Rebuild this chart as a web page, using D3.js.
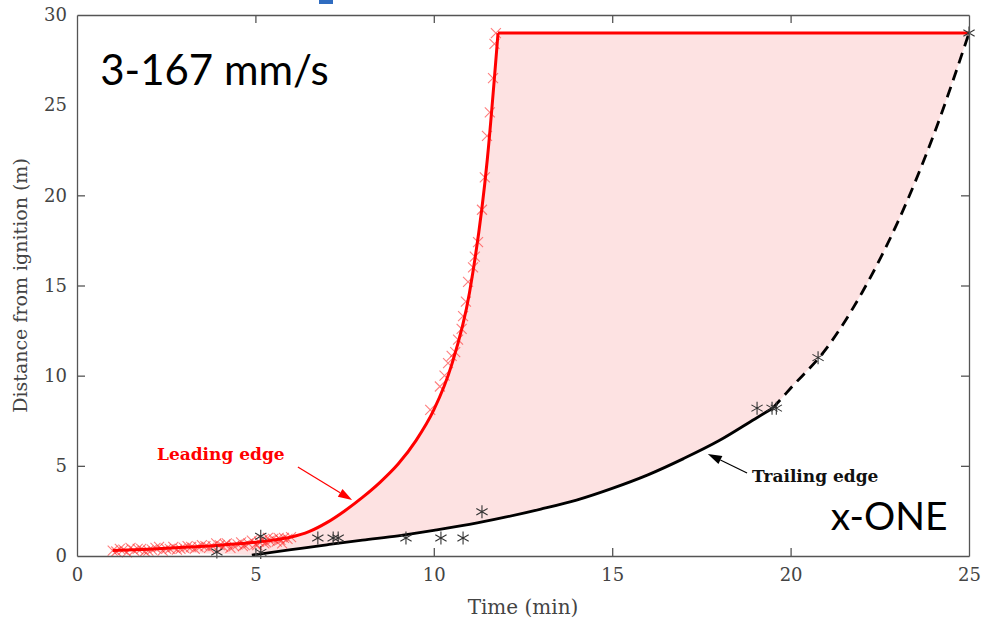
<!DOCTYPE html>
<html>
<head>
<meta charset="utf-8">
<style>
  body { margin: 0; background: #fff; }
  svg { display: block; }
  .tick text { font-family: "DejaVu Serif", serif; font-size: 18px; fill: #444; }
</style>
</head>
<body>
<svg width="984" height="629"></svg>
<script src="https://d3js.org/d3.v7.min.js"></script>
<script>

// leading edge fit (min, m)
var leadT = [1.0, 2, 3, 4, 5, 5.5, 6, 6.5, 7, 7.5, 8, 8.5, 9, 9.5, 10, 10.5, 11, 11.5, 11.8];
var leadD = [0.3, 0.38, 0.48, 0.6, 0.76, 0.88, 1.05, 1.35, 1.85, 2.5, 3.25, 4.1, 5.1, 6.4, 8.1, 10.6, 14.6, 22, 29];
var topT = [11.8, 25];
var topD = [29, 29];

// trailing edge fit, solid then extrapolated (dashed)
var trailT = [4.9, 6, 7, 8, 9, 10, 11, 12, 13, 14, 15, 16, 17, 18, 19, 19.5];
var trailD = [0.05, 0.35, 0.62, 0.88, 1.12, 1.42, 1.75, 2.15, 2.6, 3.1, 3.75, 4.5, 5.4, 6.4, 7.6, 8.2];
var extT = [19.5, 20, 21, 22, 23, 24, 25];
var extD = [8.2, 9.3, 11.5, 14.6, 18.5, 23.3, 29];

// measured leading edge points (x markers)
var leadPtT = [1.0, 1.1, 1.3, 1.4, 1.6, 1.7, 1.8, 1.9, 2.1, 2.2, 2.4, 2.5, 2.7, 2.8, 3.0, 3.1, 3.3, 3.4,
  3.5, 3.7, 3.8, 4.0, 4.1, 4.2, 4.4, 4.5, 4.6, 4.7, 4.8, 4.9, 5.0, 5.1, 5.2, 5.3, 5.4, 5.5, 5.6, 5.7,
  5.8, 5.9, 6.0, 1.5, 2.0, 2.6, 3.2, 3.9, 4.3, 5.05, 5.35, 5.75, 1.2, 2.3, 2.9, 3.6, 4.15, 4.65, 5.25, 5.65,
  9.9, 10.17, 10.3, 10.4, 10.5, 10.6, 10.68, 10.78, 10.82, 10.9, 10.96, 11.1, 11.15, 11.24, 11.35,
  11.43, 11.49, 11.57, 11.66, 11.7, 11.74];
var leadPtD = [0.3, 0.25, 0.35, 0.2, 0.3, 0.4, 0.4, 0.25, 0.35, 0.45, 0.3, 0.4, 0.5, 0.35, 0.45, 0.55, 0.4, 0.5,
  0.6, 0.45, 0.55, 0.6, 0.5, 0.7, 0.55, 0.65, 0.75, 0.6, 0.7, 0.85, 0.65, 0.8, 0.9, 0.75, 0.85, 0.95, 0.8, 0.9,
  1.0, 0.95, 1.05, 0.45, 0.3, 0.4, 0.5, 0.7, 0.45, 0.6, 1.0, 0.7, 0.4, 0.5, 0.4, 0.55, 0.65, 0.55, 0.7, 1.0,
  8.1, 9.4, 10.0, 10.7, 11.1, 11.3, 12.0, 12.6, 13.3, 14.1, 15.2, 16.0, 16.6, 17.4, 19.2,
  21.0, 23.3, 24.6, 26.5, 28.4, 29];

// measured trailing edge points (* markers)
var trailPtT = [3.92, 5.15, 5.15, 6.75, 7.18, 7.32, 9.22, 10.2, 10.82, 11.35, 19.06, 19.48, 19.6, 20.77, 25];
var trailPtD = [0.22, 1.1, 0.2, 1.0, 1.0, 1.0, 1.0, 1.0, 1.0, 2.45, 8.2, 8.2, 8.2, 11.0, 29];

var xTicks = [0, 5, 10, 15, 20, 25];
var yTicks = [0, 5, 10, 15, 20, 25, 30];

function zip(a, b){
  return a.map(function(v, i){ return [v, b[i]]; });
}

var svg = d3.select('svg');
var plotLeft = 77, plotRight = 969, plotTop = 15, plotBottom = 556;

var x = d3.scaleLinear().domain([0, 25]).range([plotLeft, plotRight]);
var y = d3.scaleLinear().domain([0, 30]).range([plotBottom, plotTop]);

// bit of the slide title peeking in
svg.append('rect').attr('x', 319).attr('y', 0).attr('width', 14).attr('height', 4).attr('fill', '#2f6cc0');

var line = d3.line()
    .x(function(d){ return x(d[0]); })
    .y(function(d){ return y(d[1]); })
    .curve(d3.curveMonotoneX);
var straight = d3.line()
    .x(function(d){ return x(d[0]); })
    .y(function(d){ return y(d[1]); });

var lead = zip(leadT, leadD);
var trail = zip(trailT, trailD);
var ext = zip(extT, extD);

// shaded band between the edges
var band = line(lead) + 'L' + x(topT[1]) + ',' + y(topD[1])
    + line(ext.slice().reverse()).replace(/^M/, 'L')
    + line(trail.slice().reverse()).replace(/^M/, 'L') + 'Z';
svg.append('path').attr('d', band).attr('fill', '#fde2e2').attr('stroke', 'none');

// x markers
svg.append('g').selectAll('path')
  .data(zip(leadPtT, leadPtD))
  .enter().append('path')
    .attr('d', function(d){
      var cx = x(d[0]), cy = y(d[1]), r = 5;
      return 'M' + (cx - r) + ',' + (cy - r) + 'L' + (cx + r) + ',' + (cy + r)
        + 'M' + (cx - r) + ',' + (cy + r) + 'L' + (cx + r) + ',' + (cy - r);
    })
    .attr('stroke', 'rgba(255,40,40,0.6)')
    .attr('stroke-width', 1.1)
    .attr('fill', 'none');

// fitted lines
svg.append('path').attr('d', line(lead)).attr('fill', 'none').attr('stroke', '#ff0000').attr('stroke-width', 3);
svg.append('path').attr('d', straight(zip(topT, topD))).attr('fill', 'none').attr('stroke', '#ff0000').attr('stroke-width', 3);
svg.append('path').attr('d', line(trail)).attr('fill', 'none').attr('stroke', '#000').attr('stroke-width', 2.8);
svg.append('path').attr('d', line(ext)).attr('fill', 'none').attr('stroke', '#000').attr('stroke-width', 2.8)
  .attr('stroke-dasharray', '11,7');

// * markers
svg.append('g').selectAll('path')
  .data(zip(trailPtT, trailPtD))
  .enter().append('path')
    .attr('d', function(d){
      var cx = x(d[0]), cy = y(d[1]), r = 6.5, a = r * 0.866, b = r * 0.5;
      return 'M' + cx + ',' + (cy - r) + 'L' + cx + ',' + (cy + r)
        + 'M' + (cx - a) + ',' + (cy - b) + 'L' + (cx + a) + ',' + (cy + b)
        + 'M' + (cx - a) + ',' + (cy + b) + 'L' + (cx + a) + ',' + (cy - b);
    })
    .attr('stroke', '#333')
    .attr('stroke-width', 1.1)
    .attr('fill', 'none');

// axes, ticks inside on all sides (box on)
var tickLen = 8;
svg.append('g').attr('transform', 'translate(0,' + plotBottom + ')')
  .call(d3.axisBottom(x).tickValues(xTicks).tickSizeInner(-tickLen).tickSizeOuter(0).tickPadding(12));
svg.append('g').attr('transform', 'translate(0,' + plotTop + ')')
  .call(d3.axisTop(x).tickValues(xTicks).tickSizeInner(-tickLen).tickSizeOuter(0).tickFormat(''));
svg.append('g').attr('transform', 'translate(' + plotLeft + ',0)')
  .call(d3.axisLeft(y).tickValues(yTicks).tickSizeInner(-tickLen).tickSizeOuter(0).tickPadding(10));
svg.append('g').attr('transform', 'translate(' + plotRight + ',0)')
  .call(d3.axisRight(y).tickValues(yTicks).tickSizeInner(-tickLen).tickSizeOuter(0).tickFormat(''));
svg.selectAll('.domain').attr('stroke', '#555').attr('stroke-width', 1.3);
svg.selectAll('.tick line').attr('stroke', '#555').attr('stroke-width', 1.3);
svg.selectAll('.tick').filter(function(d){ return d === 0 || d === 25 || d === 30; })
  .select('line').attr('stroke', 'none');

svg.append('text')
  .attr('x', (plotLeft + plotRight) / 2).attr('y', 614)
  .attr('text-anchor', 'middle')
  .style('font-family', '"DejaVu Serif", serif').style('font-size', '20px').style('fill', '#444')
  .text('Time (min)');
svg.append('text')
  .attr('transform', 'translate(27,' + ((plotTop + plotBottom) / 2) + ') rotate(-90)')
  .attr('text-anchor', 'middle')
  .style('font-family', '"DejaVu Serif", serif').style('font-size', '19px').style('fill', '#444')
  .text('Distance from ignition (m)');

// annotations
var arrowLead = [[6.19, 4.94], [7.71, 3.1]];
var arrowTrail = [[18.78, 4.6], [17.68, 5.66]];

function arrow(pts, color){
  var x0 = x(pts[0][0]), y0 = y(pts[0][1]), x1 = x(pts[1][0]), y1 = y(pts[1][1]);
  var ang = Math.atan2(y1 - y0, x1 - x0), L = 14, W = 4.5;
  var bx = x1 - L * Math.cos(ang), by = y1 - L * Math.sin(ang);
  svg.append('line').attr('x1', x0).attr('y1', y0).attr('x2', bx).attr('y2', by)
    .attr('stroke', color).attr('stroke-width', 1.2);
  svg.append('path')
    .attr('d', 'M' + x1 + ',' + y1
      + 'L' + (bx + W * Math.sin(ang)) + ',' + (by - W * Math.cos(ang))
      + 'L' + (bx - W * Math.sin(ang)) + ',' + (by + W * Math.cos(ang)) + 'Z')
    .attr('fill', color);
}
arrow(arrowLead, '#ff0000');
arrow(arrowTrail, '#000');

svg.append('text').attr('x', x(2.24)).attr('y', y(5.3))
  .style('font-family', '"DejaVu Serif", serif').style('font-weight', 'bold').style('font-size', '17px')
  .style('fill', '#ff0000').text('Leading edge');
svg.append('text').attr('x', x(18.92)).attr('y', y(4.1))
  .style('font-family', '"DejaVu Serif", serif').style('font-weight', 'bold').style('font-size', '17px')
  .style('fill', '#111').text('Trailing edge');

svg.append('text').attr('x', x(0.65)).attr('y', y(26.1))
  .style('font-family', 'Lato, sans-serif').style('font-size', '42px').style('fill', '#000')
  .text('3-167 mm/s');
svg.append('text').attr('x', x(24.4)).attr('y', y(1.44)).attr('text-anchor', 'end')
  .style('font-family', 'Lato, sans-serif').style('font-size', '39px').style('fill', '#000')
  .text('x-ONE');

</script>
</body>
</html>
